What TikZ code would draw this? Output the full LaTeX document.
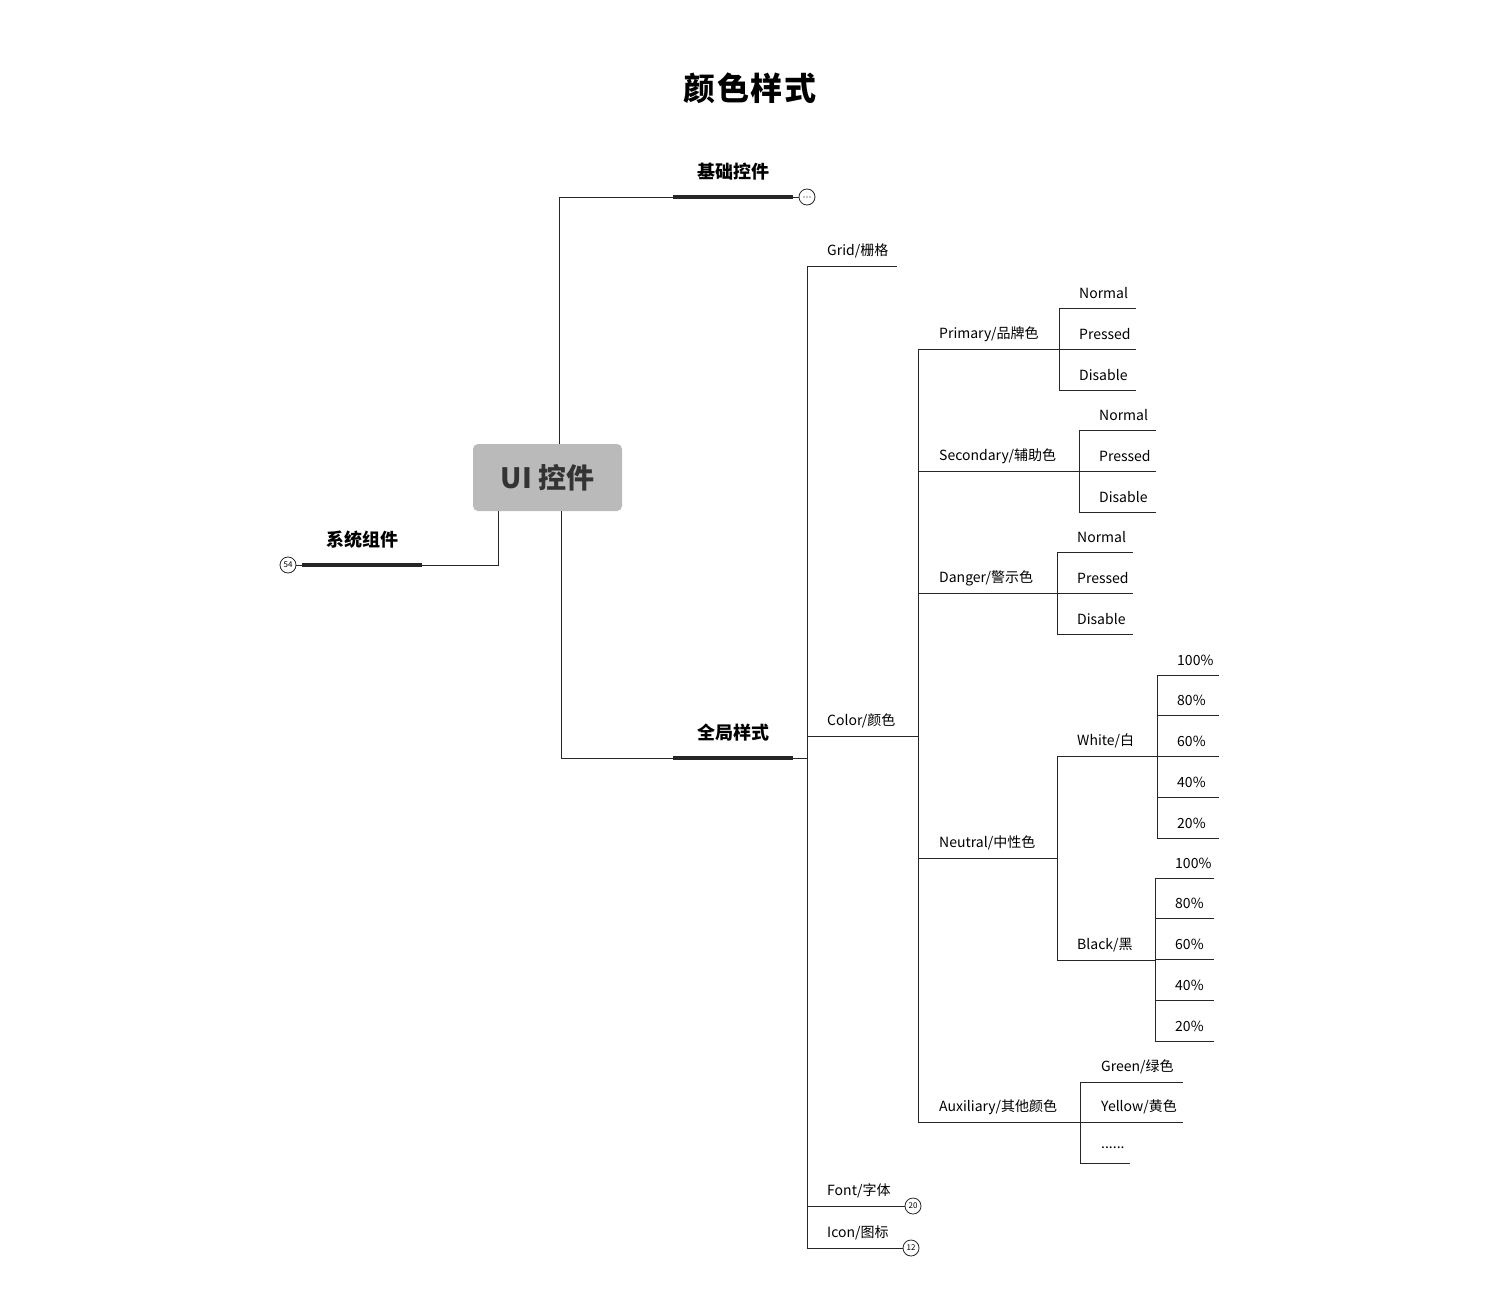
\documentclass[tikz,border=0pt]{standalone}
\usepackage{fontspec}
\setmainfont{Noto Sans CJK SC}
\usetikzlibrary{positioning}

\tikzset{
	line/.style={draw=black!85, line width=1pt},
	bar/.style={draw=black!85, line width=4pt},
	leaf/.style={anchor=west, inner sep=0pt, font=\fontsize{14}{16}\selectfont},
	topic/.style={inner sep=0pt, font=\fontsize{18}{20}\selectfont\bfseries},
	fold/.style={circle, draw=black!85, line width=0.8pt, minimum size=16pt, inner sep=0pt, font=\fontsize{8}{8}\selectfont}
}

\begin{document}
\begin{tikzpicture}[x=1pt,y=-1pt]
\useasboundingbox (0,0) rectangle (1500,1314);

\node[font=\fontsize{32}{34}\selectfont\bfseries] (title) at (750,88) {颜\kern1.5pt色\kern1.5pt样\kern1.5pt式};

\node[fill=black!27, rounded corners=5pt, minimum width=149pt, minimum height=67pt,
	font=\fontsize{28}{30}\selectfont\bfseries, text=black!80] (ui) at (547.5,477.5) {UI 控件};

%基础控件
\coordinate (a1) at (559,511);
\coordinate (a2) at (559,197);
\node[fold] (afold) at (807,197) {};
\foreach \d in {-3,0,3}
	\fill (807+\d,197) circle (0.6pt);
\draw[line] (ui.north -| a1) -- (a2) -- (673,197);
\draw[bar] (673,197) -- (793,197);
\draw[line] (793,197) -- (afold);
\node[topic] (basic) at (733,172) {基础控件};

%系统组件
\node[fold] (sfold) at (288,565) {54};
\draw[line] (498,511) -- (498,565) -- (422,565);
\draw[bar] (422,565) -- (302,565);
\draw[line] (302,565) -- (sfold);
\node[topic] (system) at (362,540) {系统组件};

%全局样式
\draw[line] (561,511) -- (561,758) -- (673,758);
\draw[bar] (673,758) -- (793,758);
\draw[line] (793,758) -- (807,758);
\node[topic] (global) at (733,733) {全局样式};

\draw[line] (807,266) -- (807,1248);
\draw[line] (807,266) -- (897,266);
\node[leaf] (grid) at (827,251) {Grid/栅格};
\draw[line] (807,736) -- (918,736);
\node[leaf] (color) at (827,721) {Color/颜色};
\node[fold] (ffold) at (913,1206) {20};
\draw[line] (807,1206) -- (ffold);
\node[leaf] (font) at (827,1191) {Font/字体};
\node[fold] (ifold) at (911,1248) {12};
\draw[line] (807,1248) -- (ifold);
\node[leaf] (icon) at (827,1233) {Icon/图标};

%颜色
\draw[line] (918,349) -- (918,1122);
\foreach \t/\y/\e in {{Primary/品牌色}/349/1059, {Secondary/辅助色}/471/1079, {Danger/警示色}/593/1057,
	{Neutral/中性色}/858/1057, {Auxiliary/其他颜色}/1122/1080}
{
	\draw[line] (918,\y) -- (\e,\y);
	\node[leaf] at (939,\y-15) {\t};
}

\foreach \x/\y/\e in {1059/308/1136, 1079/430/1156, 1057/552/1133}
{
	\draw[line] (\x,\y) -- (\x,\y+82);
	\foreach \t [count=\i from 0] in {Normal,Pressed,Disable}
	{
		\draw[line] (\x,\y+41*\i) -- (\e,\y+41*\i);
		\node[leaf] at (\x+20,\y+41*\i-15) {\t};
	}
}

%中性色
\draw[line] (1057,756) -- (1057,960);
\draw[line] (1057,756) -- (1157,756);
\node[leaf] (white) at (1077,741) {White/白};
\draw[line] (1057,960) -- (1155,960);
\node[leaf] (black) at (1077,945) {Black/黑};
\foreach \x/\y/\e in {1157/675/1219, 1155/878/1214}
{
	\draw[line] (\x,\y) -- (\x,\y+163);
	\foreach \t [count=\i from 0] in {100\%,80\%,60\%,40\%,20\%}
	{
		\draw[line] (\x,\y+40.75*\i) -- (\e,\y+40.75*\i);
		\node[leaf] at (\x+20,\y+40.75*\i-15) {\t};
	}
}

%其他颜色
\draw[line] (1080,1082) -- (1080,1163);
\foreach \t/\y/\e in {{Green/绿色}/1082/1183, {Yellow/黄色}/1122/1183, {......}/1163/1130}
{
	\draw[line] (1080,\y) -- (\e,\y);
	\node[leaf] at (1101,\y-15) {\t};
}
\end{tikzpicture}
\end{document}
